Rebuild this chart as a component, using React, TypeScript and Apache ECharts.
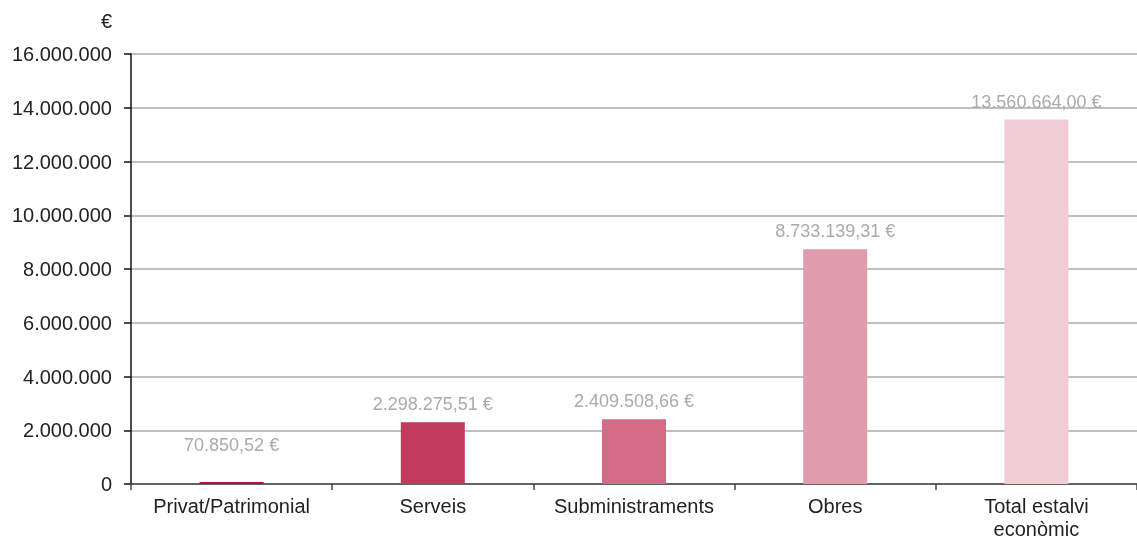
import React, { useEffect, useRef } from "react";
import * as echarts from "echarts";

const categories = ["Privat/Patrimonial", "Serveis", "Subministraments", "Obres", "Total estalvi\neconòmic"];
const values = [70850.52, 2298275.51, 2409508.66, 8733139.31, 13560664.0];
const barColors = ["#b20f3a", "#c23a5b", "#d36b86", "#e09bac", "#f0ccd5"];
const labelDistances = [28, 9, 9, 9, 9];
const yTicks = { min: 0, max: 16000000, interval: 2000000 };

const fmtInt = (v: number) => Math.round(v).toString().replace(/\B(?=(\d{3})+(?!\d))/g, ".");
const fmtEuro = (v: number) => {
  const [i, d] = v.toFixed(2).split(".");
  return fmtInt(Number(i)) + "," + d + " €";
};

export default function App() {
  const ref = useRef<HTMLDivElement>(null);
  useEffect(() => {
    if (!ref.current) return;
    const chart = echarts.init(ref.current, undefined, { renderer: "svg" });
    const font = "'Liberation Sans', Arial, sans-serif";
    chart.setOption({
      animation: false,
      textStyle: { fontFamily: font },
      grid: { left: 131, right: 0, top: 54, bottom: 57, containLabel: false },
      xAxis: {
        type: "category",
        data: categories,
        axisLine: { lineStyle: { color: "#444", width: 1.5 } },
        axisTick: { show: true, length: 6, lineStyle: { color: "#444", width: 1.5 } },
        axisLabel: { color: "#222", fontSize: 20, margin: 10, lineHeight: 23, interval: 0, hideOverlap: false, fontFamily: font },
      },
      yAxis: {
        type: "value",
        min: yTicks.min,
        max: yTicks.max,
        interval: yTicks.interval,
        name: "€",
        nameLocation: "end",
        nameGap: 23,
        nameTextStyle: { color: "#222", fontSize: 20, align: "right", padding: [0, 19, 0, 0], fontFamily: font },
        axisLine: { show: true, lineStyle: { color: "#111", width: 1.5 } },
        axisTick: { show: true, length: 7, lineStyle: { color: "#111", width: 1.5 } },
        axisLabel: { color: "#222", fontSize: 20, margin: 19, formatter: (v: number) => fmtInt(v), fontFamily: font },
        splitLine: { lineStyle: { color: "#aaa", width: 1.5 } },
      },
      series: [
        {
          type: "bar",
          barWidth: 64,
          data: values.map((v, i) => ({
            value: v,
            itemStyle: { color: barColors[i] },
            label: { distance: labelDistances[i] },
          })),
          label: {
            show: true,
            position: "top",
            color: "#aaa",
            fontSize: 18,
            fontFamily: font,
            formatter: (p: any) => fmtEuro(p.value),
          },
        },
      ],
    });
    return () => chart.dispose();
  }, []);
  return <div ref={ref} style={{ position: "fixed", left: 0, top: 0, width: 1137, height: 541 }} />;
}
